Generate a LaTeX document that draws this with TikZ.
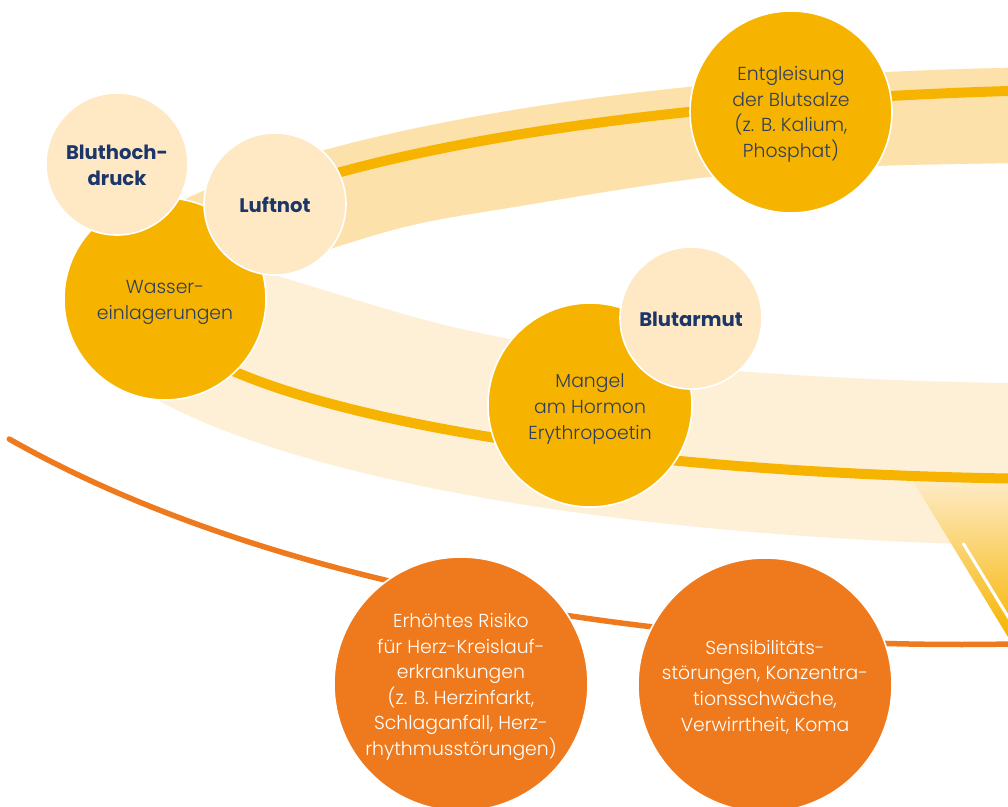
\documentclass[tikz,border=0pt]{standalone}
\usepackage{fontspec}
\newfontfamily\plight{Poppins Light}
\newfontfamily\pbold{Poppins Bold}
\definecolor{cDark}{HTML}{F6B400}
\definecolor{cLight}{HTML}{FEE9C4}
\definecolor{cFront}{HTML}{FEF0D7}
\definecolor{cBack}{HTML}{FDE1AB}
\definecolor{cOrange}{HTML}{EF7A1D}
\definecolor{cNavy}{HTML}{1C3669}
\definecolor{cText}{HTML}{2F3E5E}
\definecolor{cWedgeTop}{HTML}{FEEBC6}
\begin{document}
\begin{tikzpicture}[x=1pt,y=-1pt,
  bub/.style={circle, inner sep=0pt, draw=white, line width=1.6pt},
  darkbub/.style={bub, fill=cDark},
  lightbub/.style={bub, fill=cLight},
  orbub/.style={bub, fill=cOrange},
  darktxt/.style={align=center, inner sep=0pt, text=cText, font=\plight\fontsize{18.8}{25.6}\selectfont},
  boldtxt/.style={align=center, inner sep=0pt, text=cNavy, font=\pbold\fontsize{19.6}{26}\selectfont},
  ortxt/.style={align=center, inner sep=0pt, text=white, font=\plight\fontsize{18.8}{25.6}\selectfont},
  ringline/.style={cDark, line width=10pt},
  arcline/.style={cOrange, line width=5.5pt, line cap=round}]
\useasboundingbox (0,0) rectangle (1008,806);
\clip (0,0) rectangle (1008,806);
\fill[white] (0,0) rectangle (1008,806);
% ring band (outer ellipse minus inner hole)
\fill[cFront, even odd rule] (1097,306.5) ellipse [x radius=1020pt, y radius=239.5pt]
  plot[smooth, tension=0.55] coordinates {(1300,158) (1008,163) (850,167) (700,178) (520,206) (400,228) (262,271)}
  -- plot[smooth, tension=0.55] coordinates {(262,271) (400,313) (480,333) (600,355) (700,368) (850,378) (1008,383) (1300,386)}
  -- cycle;
\begin{scope}
  \clip (0,0) rectangle (1008,270);
  \fill[cBack, even odd rule] (1097,306.5) ellipse [x radius=1020pt, y radius=239.5pt]
    plot[smooth, tension=0.55] coordinates {(1300,158) (1008,163) (850,167) (700,178) (520,206) (400,228) (262,271)}
    -- plot[smooth, tension=0.55] coordinates {(262,271) (400,313) (480,333) (600,355) (700,368) (850,378) (1008,383) (1300,386)}
    -- cycle;
\end{scope}
% gradient wedge
\shade[top color=cWedgeTop, bottom color=cDark] (913,481) -- (1008,637) -- (1010,637) -- (1010,481) -- cycle;
\coordinate (wA) at (963,543);
\coordinate (wB) at (1010,620);
\draw[white, line width=3pt] (wA) -- (wB);
% ring line
\draw[ringline, rotate around={0.4:(1120,284)}] (1120,284) ellipse [x radius=975pt, y radius=195pt];
% orange arc
\draw[arcline] plot[domain=142.4:87.7, samples=100] ({960+1200*cos(\x)},{117.5+527*sin(\x)});
% circles
\node[darkbub, minimum size=202pt] (wasser) at (165,299) {};
\node[darktxt] (wassertxt) at ([yshift=-3.5pt]wasser.center) {Wasser-\\einlagerungen};
\node[lightbub, minimum size=142pt] (bluthoch) at (117,164) {};
\node[boldtxt] (bluthochtxt) at ([yshift=-1.5pt]bluthoch.center) {Bluthoch-\\druck};
\node[lightbub, minimum size=142pt] (luftnot) at (275,204) {};
\node[boldtxt] (luftnottxt) at ([yshift=-1pt]luftnot.center) {Luftnot};
\node[darkbub, minimum size=202pt] (entgleisung) at (791,112) {};
\node[darktxt] (entgleisungtxt) at ([yshift=-2.5pt]entgleisung.center) {Entgleisung\\der Blutsalze\\(z. B. Kalium,\\Phosphat)};
\node[darkbub, minimum size=204pt] (mangel) at (590,405) {};
\node[darktxt] (mangeltxt) at ([yshift=-4pt]mangel.center) {Mangel\\am Hormon\\Erythropoetin};
\node[lightbub, minimum size=142pt] (blutarmut) at (691,318) {};
\node[boldtxt] (blutarmuttxt) at ([yshift=-1pt]blutarmut.center) {Blutarmut};
\node[orbub, minimum size=254pt] (risiko) at (461,684) {};
\node[ortxt] (risikotxt) at ([yshift=-3pt]risiko.center) {Erhöhtes Risiko\\für Herz-Kreislauf-\\erkrankungen\\(z. B. Herzinfarkt,\\Schlaganfall, Herz-\\rhythmusstörungen)};
\node[orbub, minimum size=254pt] (sens) at (765,685) {};
\node[ortxt] (senstxt) at ([yshift=-2pt]sens.center) {Sensibilitäts-\\störungen, Konzentra-\\tionsschwäche,\\Verwirrtheit, Koma};
\end{tikzpicture}
\end{document}
